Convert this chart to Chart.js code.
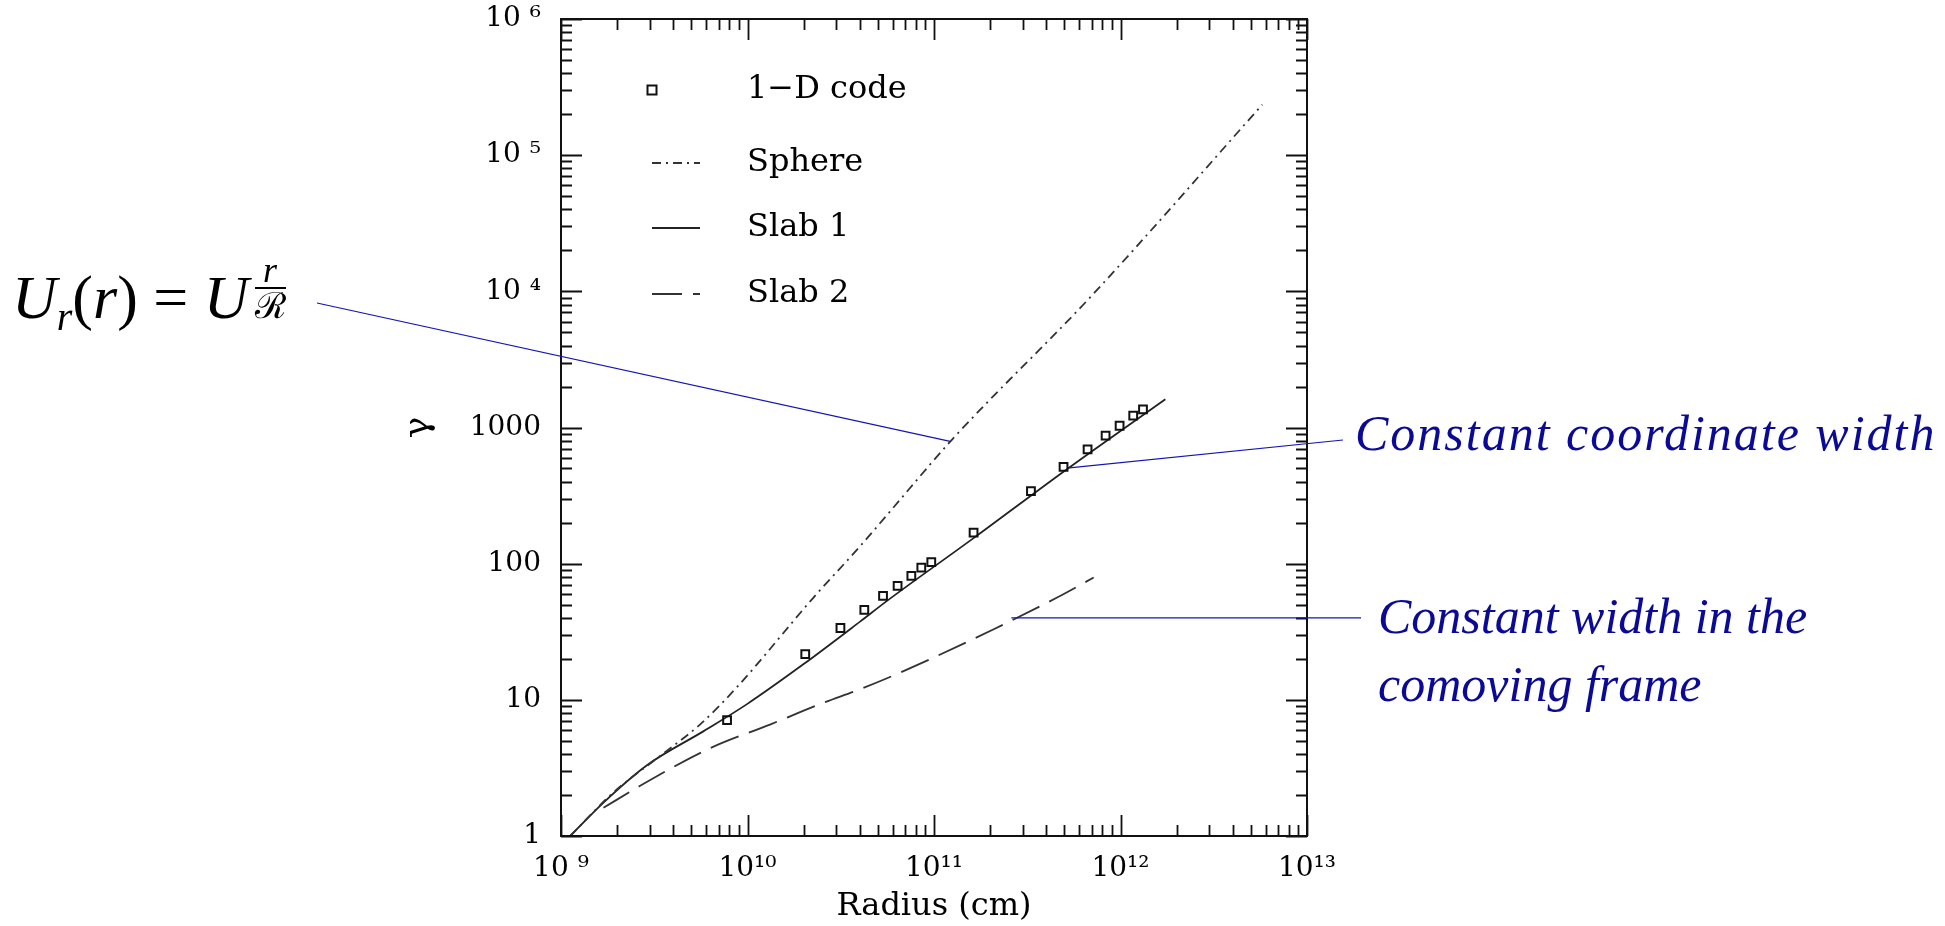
<!DOCTYPE html>
<html>
<head>
<meta charset="utf-8">
<script src="https://cdn.jsdelivr.net/npm/chart.js@4.4.1/dist/chart.umd.min.js"></script>
<style>
  html, body { margin: 0; padding: 0; background: #fff; }
  #wrap { position: relative; width: 1945px; height: 926px; }
  #wrap canvas { position: absolute; left: 0; top: 0; }
  .note { position: absolute; white-space: nowrap; font-family: "Liberation Serif", serif; font-style: italic; color: #0a0a96; font-size: 50px; line-height: 1; }
  #formula { position: absolute; left: 12px; top: 253px; font-family: "Liberation Serif", serif; font-size: 62px; line-height: 1; color: #000; white-space: nowrap; }
  #formula i { font-style: italic; }
  #formula .sub { font-size: 40px; font-style: italic; position: relative; top: 12px; }
  #formula .frac { display: inline-block; text-align: center; font-size: 36px; vertical-align: baseline; margin-left: 6px; }
  #formula .frac .num { display: block; font-style: italic; border-bottom: 2px solid #000; padding: 0 3px; line-height: 0.95; }
  #formula .frac .den { display: block; font-family: "DejaVu Serif", serif; line-height: 0.95; }
</style>
</head>
<body>
<div id="wrap">
  <canvas id="chart" width="1945" height="926"></canvas>
  <div id="formula"><i>U</i><span class="sub">r</span>(<i>r</i>) = <i>U</i><span class="frac"><span class="num">r</span><span class="den">ℛ</span></span></div>
  <div class="note" style="left:1355px; top:408px; letter-spacing:2px;">Constant coordinate width</div>
  <div class="note" style="left:1378px; top:591px;">Constant width in the</div>
  <div class="note" style="left:1378px; top:659px;">comoving frame</div>
</div>
<script>
// axis ranges and tick labels
const xDecades = [1e9, 1e10, 1e11, 1e12, 1e13];
const xTickLabels = ['10 ⁹', '10¹⁰', '10¹¹', '10¹²', '10¹³'];
const yDecades = [1, 10, 100, 1000, 1e4, 1e5, 1e6];
const yTickLabels = ['1', '10', '100', '1000', '10 ⁴', '10 ⁵', '10 ⁶'];

const seriesNames = ['1\u2212D code', 'Sphere', 'Slab 1', 'Slab 2'];

// 1-D code results (open squares)
const codeRadius = [7.77e9, 2.04e10, 3.15e10, 4.23e10, 5.33e10, 6.38e10, 7.56e10, 8.55e10, 9.67e10,
                    1.63e11, 3.31e11, 4.95e11, 6.66e11, 8.32e11, 9.89e11, 1.17e12, 1.32e12];
const codeGamma  = [7.1, 21.7, 33.7, 45.7, 58.1, 68.7, 81.3, 93.5, 102.8,
                    169, 341, 514, 690, 871, 1030, 1224, 1358];

// Sphere (dash-dot)
const sphereRadius = [1.12e9, 1.91e9, 3.27e9, 5.58e9, 8.78e9, 2.26e10, 4.03e10, 5.83e10, 1.25e11, 6.89e11, 5.76e12];
const sphereGamma  = [1.0, 2.09, 3.72, 6.61, 12.4, 56.4, 135, 243, 815, 9060, 2.35e5];

// Slab 1 (solid)
const slab1Radius = [1.12e9, 1.69e9, 2.89e9, 5.82e9, 9.94e9, 2.0e10, 4.03e10, 5.6e10, 1.63e11, 5.16e11, 1.74e12];
const slab1Gamma  = [1.0, 1.76, 3.31, 5.89, 9.3, 18.3, 37.7, 53.3, 154, 494, 1614];

// Slab 2 (long dash)
const slab2Radius = [1.69e9, 2.66e9, 6.32e9, 1.33e10, 2.46e10, 4.03e10, 5.6e10, 9.17e10, 2.09e11, 4.57e11, 7.18e11];
const slab2Gamma  = [1.61, 2.34, 4.42, 6.61, 9.33, 12.0, 14.4, 19.4, 33.0, 56.4, 79.1];

// where the blue callout lines touch the curves
const calloutRadius = [1.22e11, 5.32e11, 2.6e11];
const calloutGamma  = [790, 505, 40];

const pts = (xs, ys) => xs.map((x, i) => ({ x: x, y: ys[i] }));

function logTicks(decades) {
  const out = [];
  decades.forEach((d, i) => {
    out.push({ value: d, major: true });
    if (i < decades.length - 1) for (let m = 2; m <= 9; m++) out.push({ value: d * m, major: false });
  });
  return out;
}

const serif = 'DejaVu Serif';
const ink = '#000';

const frameTicks = {
  id: 'frameTicks',
  afterDraw(chart) {
    const { ctx, chartArea: a, scales: { x, y } } = chart;
    ctx.save();
    ctx.strokeStyle = '#111';
    ctx.lineWidth = 2;
    ctx.strokeRect(a.left, a.top, a.right - a.left, a.bottom - a.top);
    ctx.lineWidth = 1.8;
    ctx.beginPath();
    x.ticks.forEach(t => {
      const px = Math.round(x.getPixelForValue(t.value)) + 0.5;
      const len = xDecades.includes(t.value) ? 21 : 11;
      ctx.moveTo(px, a.bottom); ctx.lineTo(px, a.bottom - len);
      ctx.moveTo(px, a.top); ctx.lineTo(px, a.top + len);
    });
    y.ticks.forEach(t => {
      const py = Math.round(y.getPixelForValue(t.value)) + 0.5;
      const len = yDecades.includes(t.value) ? 21 : 11;
      ctx.moveTo(a.left, py); ctx.lineTo(a.left + len, py);
      ctx.moveTo(a.right, py); ctx.lineTo(a.right - len, py);
    });
    ctx.stroke();
    ctx.restore();
  }
};

const plotLegend = {
  id: 'plotLegend',
  afterDraw(chart, args, opts) {
    const { ctx } = chart;
    ctx.save();
    ctx.font = '32px "' + serif + '"';
    ctx.textBaseline = 'middle';
    ctx.fillStyle = ink;
    chart.data.datasets.forEach((ds, i) => {
      const yy = opts.rows[i];
      ctx.strokeStyle = ds.borderColor;
      if (ds.showLine === false) {
        ctx.lineWidth = 2;
        ctx.strokeRect(opts.sampleX - 4.5, yy - 4.5, 9, 9);
      } else {
        ctx.lineWidth = ds.borderWidth;
        ctx.setLineDash(ds.borderDash || []);
        ctx.beginPath();
        ctx.moveTo(opts.sampleX, yy);
        ctx.lineTo(opts.sampleX + opts.sampleW, yy);
        ctx.stroke();
        ctx.setLineDash([]);
      }
      ctx.fillText(ds.label, opts.textX, yy);
    });
    ctx.restore();
  }
};

const callouts = {
  id: 'callouts',
  afterDraw(chart, args, opts) {
    const { ctx, scales: { x, y } } = chart;
    ctx.save();
    ctx.strokeStyle = '#1414b4';
    ctx.lineWidth = 1.2;
    calloutRadius.forEach((r, i) => {
      const px = x.getPixelForValue(r);
      const py = y.getPixelForValue(calloutGamma[i]);
      const end = opts.ends[i];
      ctx.beginPath();
      ctx.moveTo(end[0], end[1] === null ? py : end[1]);
      ctx.lineTo(px, py);
      ctx.stroke();
    });
    ctx.restore();
  }
};

new Chart(document.getElementById('chart'), {
  type: 'line',
  data: {
    datasets: [
      {
        label: seriesNames[0], data: pts(codeRadius, codeGamma), showLine: false,
        pointStyle: 'rect', pointRadius: 5.5, pointBorderWidth: 2,
        borderColor: '#111', backgroundColor: 'rgba(0,0,0,0)', pointBackgroundColor: 'rgba(0,0,0,0)'
      },
      {
        label: seriesNames[1], data: pts(sphereRadius, sphereGamma), borderColor: '#333',
        borderWidth: 1.8, borderDash: [9, 5, 2, 5], pointRadius: 0, cubicInterpolationMode: 'monotone'
      },
      {
        label: seriesNames[2], data: pts(slab1Radius, slab1Gamma), borderColor: '#222',
        borderWidth: 1.8, pointRadius: 0, cubicInterpolationMode: 'monotone'
      },
      {
        label: seriesNames[3], data: pts(slab2Radius, slab2Gamma), borderColor: '#333',
        borderWidth: 1.8, borderDash: [30, 11], pointRadius: 0, cubicInterpolationMode: 'monotone'
      }
    ]
  },
  options: {
    responsive: false,
    animation: false,
    layout: { padding: { left: 397, top: 19, right: 638, bottom: 0 } },
    plugins: {
      legend: { display: false },
      tooltip: { enabled: false },
      plotLegend: { rows: [90, 163, 228, 294], sampleX: 652, sampleW: 48, textX: 747 },
      callouts: { ends: [[317, 303], [1343, 440], [1361, null]] }
    },
    scales: {
      x: {
        type: 'logarithmic', min: 1e9, max: 1e13,
        grid: { display: false, drawTicks: false }, border: { display: false },
        afterBuildTicks: s => { s.ticks = logTicks(xDecades); },
        afterFit: s => { s.height = 90; },
        ticks: {
          autoSkip: false, maxRotation: 0, padding: 16, color: ink,
          font: { family: serif, size: 28 },
          callback: v => { const i = xDecades.indexOf(v); return i >= 0 ? xTickLabels[i] : ''; }
        },
        title: { display: true, text: 'Radius (cm)', color: ink, padding: 0, font: { family: serif, size: 32 } }
      },
      y: {
        type: 'logarithmic', min: 1, max: 1e6,
        grid: { display: false, drawTicks: false }, border: { display: false },
        afterBuildTicks: s => { s.ticks = logTicks(yDecades); },
        afterFit: s => { s.width = 164; s.paddingTop = 0; s.paddingBottom = 0; },
        ticks: {
          autoSkip: false, padding: 20, color: ink,
          font: { family: serif, size: 28 },
          callback: v => { const i = yDecades.indexOf(v); return i >= 0 ? yTickLabels[i] : ''; }
        },
        title: { display: true, text: 'γ', color: ink, padding: 0, font: { family: serif, size: 36 } }
      }
    }
  },
  plugins: [frameTicks, plotLegend, callouts]
});
</script>
</body>
</html>
